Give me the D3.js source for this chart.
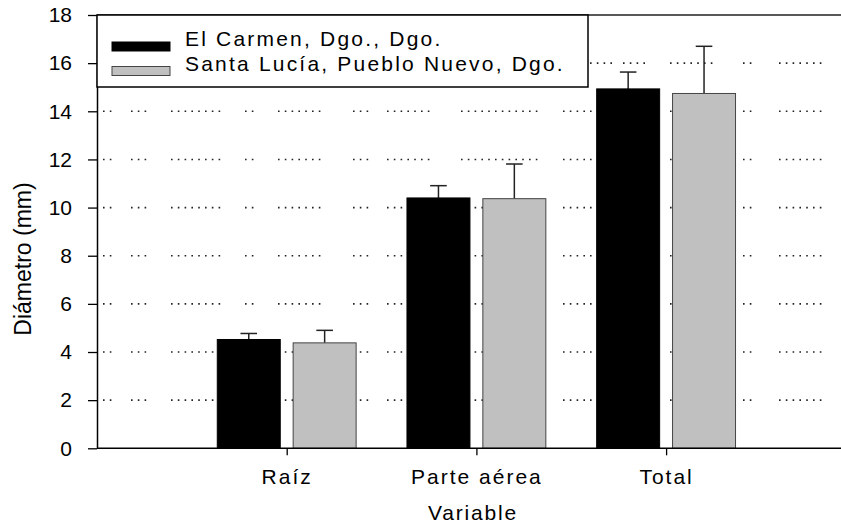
<!DOCTYPE html>
<html>
<head>
<meta charset="utf-8">
<script src="https://cdnjs.cloudflare.com/ajax/libs/d3/7.8.5/d3.min.js"></script>
<style>
  body { margin: 0; background: #fff; }
  text { font-family: "Liberation Sans", Arial, sans-serif; fill: #000; }
</style>
</head>
<body>
<div class="chart"></div>
<script>
var categories = ["Raíz", "Parte aérea", "Total"];
var seriesNames = ["El Carmen, Dgo., Dgo.", "Santa Lucía, Pueblo Nuevo, Dgo."];
var elCarmen = [4.52, 10.40, 14.93];
var elCarmenErr = [0.25, 0.51, 0.70];
var santaLucia = [4.38, 10.37, 14.74];
var santaLuciaErr = [0.52, 1.44, 1.96];
var yTicks = [0, 2, 4, 6, 8, 10, 12, 14, 16, 18];
var gridValues = [2, 4, 6, 8, 10, 12, 14, 16];

var svgWidth = 841;
var svgHeight = 525;
var plotLeft = 97, plotRight = 841, plotTop = 15, plotBottom = 448.3;

var svg = d3.select(".chart")
  .append("svg")
  .attr("width", svgWidth)
  .attr("height", svgHeight);

// categories sit at 1,2,3 on a linear scale starting at the y axis
var x = d3.scaleLinear().domain([0, 4]).range([plotLeft, plotLeft + 4 * 189.7]);
var y = d3.scaleLinear().domain([0, 18]).range([plotBottom, plotTop]);

var barW = 0.332, off = 0.2;

// odd dotted gridlines (groups of dots as in the source picture)
var dotGroups = [[6, 2], [34, 3], [74, 8], [148, 2], [181, 7], [256, 3], [290, 7],
  [364, 12], [466, 4], [493, 4], [526, 4], [573, 7], [646, 2], [682, 7]];
var dot = 1.6, period = 6.8;
var dash = [0, dotGroups[0][0]];
dotGroups.forEach(function(g, i) {
  for (var k = 0; k < g[1]; k++) {
    dash.push(dot);
    if (k < g[1] - 1) dash.push(period - dot);
  }
  var end = g[0] + (g[1] - 1) * period + dot;
  var next = i < dotGroups.length - 1 ? dotGroups[i + 1][0] : 800;
  dash.push(next - end);
});

svg.append("g").selectAll("line")
  .data(gridValues)
  .enter().append("line")
    .attr("x1", plotLeft)
    .attr("x2", plotRight)
    .attr("y1", function(d) { return y(d); })
    .attr("y2", function(d) { return y(d); })
    .attr("stroke", "#222")
    .attr("stroke-width", 1.6)
    .attr("stroke-dasharray", dash.join(" "));

// top frame line
svg.append("line")
  .attr("x1", plotLeft).attr("x2", plotRight)
  .attr("y1", plotTop).attr("y2", plotTop)
  .attr("stroke", "#222").attr("stroke-width", 1.5);

var series = [
  { vals: elCarmen, err: elCarmenErr, fill: "#000", stroke: "#000", dx: -off },
  { vals: santaLucia, err: santaLuciaErr, fill: "#c0c0c0", stroke: "#444", dx: off }
];

series.forEach(function(s) {
  var g = svg.append("g");
  g.selectAll("line.err")
    .data(s.vals)
    .enter().append("line")
      .attr("class", "err")
      .attr("x1", function(d, i) { return x(i + 1 + s.dx); })
      .attr("x2", function(d, i) { return x(i + 1 + s.dx); })
      .attr("y1", function(d) { return y(d); })
      .attr("y2", function(d, i) { return y(d + s.err[i]); })
      .attr("stroke", "#222").attr("stroke-width", 1.5);
  g.selectAll("line.cap")
    .data(s.vals)
    .enter().append("line")
      .attr("class", "cap")
      .attr("x1", function(d, i) { return x(i + 1 + s.dx) - 8.3; })
      .attr("x2", function(d, i) { return x(i + 1 + s.dx) + 8.3; })
      .attr("y1", function(d, i) { return y(d + s.err[i]); })
      .attr("y2", function(d, i) { return y(d + s.err[i]); })
      .attr("stroke", "#222").attr("stroke-width", 1.5);
  g.selectAll("rect")
    .data(s.vals)
    .enter().append("rect")
      .attr("x", function(d, i) { return x(i + 1 + s.dx - barW / 2); })
      .attr("width", x(barW) - x(0))
      .attr("y", function(d) { return y(d); })
      .attr("height", function(d) { return y(0) - y(d); })
      .attr("fill", s.fill)
      .attr("stroke", s.stroke)
      .attr("stroke-width", 1);
});

// y axis
var yAxis = svg.append("g")
  .attr("transform", "translate(" + plotLeft + ",0)")
  .call(d3.axisLeft(y).tickValues(yTicks).tickSize(9).tickPadding(16).tickSizeOuter(0));
yAxis.select(".domain").attr("stroke", "#000").attr("stroke-width", 1.5);
yAxis.selectAll(".tick line").attr("stroke", "#000").attr("stroke-width", 1.3);
yAxis.selectAll(".tick text")
  .style("font-family", "'Liberation Sans', Arial, sans-serif")
  .style("font-size", "21px")
  .attr("fill", "#000");

// x axis
var xAxis = svg.append("g")
  .attr("transform", "translate(0," + plotBottom + ")")
  .call(d3.axisBottom(x).tickValues([1, 2, 3]).tickSize(7).tickPadding(14)
    .tickSizeOuter(0).tickFormat(function(d) { return categories[d - 1]; }));
xAxis.select(".domain").attr("d", "M" + plotLeft + ",0H" + plotRight)
  .attr("stroke", "#000").attr("stroke-width", 1.5);
xAxis.selectAll(".tick line").attr("stroke", "#000").attr("stroke-width", 1.3);
xAxis.selectAll(".tick text")
  .style("font-family", "'Liberation Sans', Arial, sans-serif")
  .style("font-size", "21px")
  .style("letter-spacing", "2px")
  .attr("fill", "#000");

// axis titles
svg.append("text")
  .attr("transform", "translate(31,259) rotate(-90)")
  .attr("text-anchor", "middle")
  .style("font-size", "23px")
  .text("Diámetro (mm)");

svg.append("text")
  .attr("x", 473)
  .attr("y", 520)
  .attr("text-anchor", "middle")
  .style("font-size", "21px")
  .style("letter-spacing", "1.8px")
  .text("Variable");

// legend
var legend = svg.append("g");
legend.append("rect")
  .attr("x", plotLeft).attr("y", plotTop)
  .attr("width", 491).attr("height", 72)
  .attr("fill", "#fff").attr("stroke", "#000").attr("stroke-width", 1.5);

var legendFill = ["#000", "#c0c0c0"];
var legendStroke = ["#000", "#444"];
legend.selectAll("rect.sw")
  .data(seriesNames)
  .enter().append("rect")
    .attr("class", "sw")
    .attr("x", 112)
    .attr("y", function(d, i) { return 42 + i * 24.5; })
    .attr("width", 58)
    .attr("height", 9)
    .attr("fill", function(d, i) { return legendFill[i]; })
    .attr("stroke", function(d, i) { return legendStroke[i]; })
    .attr("stroke-width", 1);

legend.selectAll("text")
  .data(seriesNames)
  .enter().append("text")
    .attr("x", 185)
    .attr("y", function(d, i) { return 46 + i * 24.5; })
    .style("font-size", "21px")
    .style("letter-spacing", "2.2px")
    .text(function(d) { return d; });
</script>
</body>
</html>
